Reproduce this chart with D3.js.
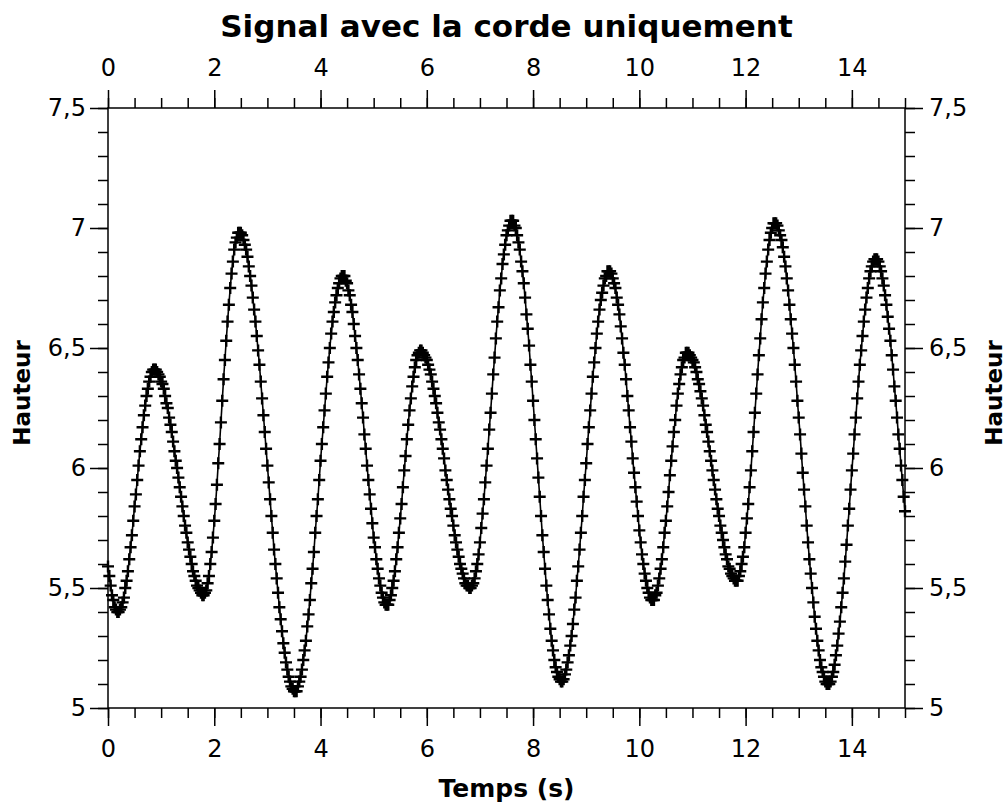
<!DOCTYPE html>
<html>
<head>
<meta charset="utf-8">
<script src="https://cdn.jsdelivr.net/npm/d3@7"></script>
<style>
  body { margin: 0; background: #fff; }
  svg { display: block; }
  text { font-family: "DejaVu Sans", sans-serif; fill: #000; }
</style>
</head>
<body>
<svg id="chart" width="1007" height="805"></svg>
<script>
// ---------- data ----------
const chartTitle = "Signal avec la corde uniquement";
const xAxisLabel = "Temps (s)";
const yAxisLabel = "Hauteur";

const sampleStep = 0.025;   // seconds between samples
const startTime = 0;

// hauteur values, one row per second of signal (40 samples per second) + last sample at 15 s
const hauteur = [
  // 0 s
  5.59,5.55,5.51,5.47,5.45,5.42,5.41,5.40,5.40,5.41,
  5.42,5.44,5.46,5.50,5.53,5.57,5.62,5.67,5.72,5.78,
  5.84,5.89,5.95,6.01,6.07,6.12,6.17,6.22,6.26,6.30,
  6.33,6.36,6.38,6.40,6.41,6.41,6.41,6.40,6.39,6.38,
  // 1 s
  6.36,6.35,6.33,6.30,6.27,6.25,6.21,6.18,6.15,6.11,
  6.07,6.03,6.00,5.96,5.92,5.88,5.84,5.80,5.76,5.73,
  5.69,5.66,5.63,5.60,5.57,5.55,5.53,5.51,5.50,5.49,
  5.48,5.47,5.47,5.48,5.49,5.52,5.55,5.60,5.65,5.71,
  // 2 s
  5.78,5.85,5.93,6.02,6.10,6.19,6.28,6.37,6.45,6.53,
  6.61,6.68,6.75,6.81,6.86,6.91,6.94,6.96,6.98,6.98,
  6.98,6.97,6.95,6.93,6.91,6.88,6.84,6.80,6.76,6.71,
  6.66,6.61,6.55,6.49,6.43,6.36,6.29,6.22,6.15,6.08,
  // 3 s
  6.01,5.94,5.87,5.80,5.73,5.66,5.60,5.54,5.48,5.42,
  5.37,5.32,5.27,5.23,5.19,5.16,5.13,5.11,5.09,5.08,
  5.07,5.07,5.07,5.09,5.11,5.13,5.16,5.20,5.24,5.28,
  5.34,5.39,5.45,5.52,5.58,5.65,5.73,5.80,5.87,5.95,
  // 4 s
  6.03,6.10,6.17,6.24,6.31,6.38,6.44,6.50,6.56,6.61,
  6.65,6.69,6.72,6.75,6.77,6.79,6.80,6.80,6.80,6.78,
  6.77,6.74,6.72,6.68,6.65,6.60,6.55,6.50,6.45,6.39,
  6.33,6.27,6.21,6.14,6.08,6.01,5.95,5.89,5.83,5.77,
  // 5 s
  5.71,5.67,5.62,5.58,5.54,5.51,5.48,5.46,5.44,5.43,
  5.43,5.43,5.45,5.47,5.50,5.53,5.57,5.62,5.67,5.73,
  5.79,5.85,5.92,5.99,6.05,6.12,6.18,6.24,6.29,6.34,
  6.38,6.42,6.45,6.47,6.48,6.49,6.49,6.48,6.47,6.46,
  // 6 s
  6.45,6.43,6.41,6.39,6.36,6.33,6.30,6.27,6.23,6.19,
  6.16,6.12,6.08,6.04,5.99,5.95,5.91,5.87,5.83,5.80,
  5.76,5.72,5.69,5.66,5.63,5.60,5.58,5.56,5.54,5.52,
  5.51,5.51,5.50,5.50,5.51,5.52,5.54,5.57,5.60,5.64,
  // 7 s
  5.69,5.75,5.81,5.87,5.94,6.01,6.08,6.16,6.23,6.31,
  6.39,6.46,6.54,6.61,6.67,6.74,6.79,6.85,6.89,6.93,
  6.97,6.99,7.01,7.03,7.03,7.03,7.01,7.00,6.97,6.94,
  6.91,6.86,6.82,6.77,6.71,6.64,6.58,6.51,6.43,6.36,
  // 8 s
  6.28,6.20,6.12,6.04,5.96,5.88,5.80,5.72,5.65,5.58,
  5.51,5.45,5.39,5.33,5.28,5.24,5.20,5.17,5.15,5.13,
  5.12,5.11,5.11,5.12,5.14,5.16,5.19,5.22,5.26,5.30,
  5.35,5.41,5.46,5.53,5.59,5.66,5.73,5.80,5.88,5.95,
  // 9 s
  6.02,6.10,6.17,6.24,6.31,6.38,6.44,6.50,6.56,6.61,
  6.66,6.70,6.73,6.76,6.79,6.80,6.82,6.82,6.82,6.81,
  6.79,6.77,6.75,6.71,6.68,6.64,6.59,6.54,6.48,6.43,
  6.37,6.30,6.24,6.17,6.11,6.04,5.98,5.92,5.86,5.80,
  // 10 s
  5.74,5.69,5.64,5.60,5.56,5.53,5.50,5.48,5.46,5.45,
  5.45,5.45,5.47,5.48,5.51,5.54,5.58,5.62,5.67,5.73,
  5.78,5.84,5.90,5.97,6.03,6.09,6.15,6.20,6.26,6.31,
  6.35,6.39,6.42,6.45,6.46,6.48,6.48,6.48,6.47,6.46,
  // 11 s
  6.45,6.44,6.42,6.40,6.37,6.35,6.32,6.29,6.26,6.22,
  6.18,6.15,6.11,6.07,6.03,5.99,5.95,5.91,5.87,5.83,
  5.80,5.76,5.73,5.70,5.67,5.64,5.62,5.59,5.58,5.56,
  5.55,5.54,5.53,5.53,5.53,5.55,5.57,5.60,5.63,5.67,
  // 12 s
  5.73,5.79,5.85,5.92,5.99,6.07,6.15,6.23,6.31,6.39,
  6.47,6.54,6.62,6.69,6.75,6.81,6.86,6.91,6.95,6.98,
  7.00,7.02,7.02,7.02,7.01,6.99,6.97,6.95,6.92,6.88,
  6.84,6.79,6.74,6.68,6.62,6.56,6.50,6.43,6.36,6.28,
  // 13 s
  6.21,6.14,6.06,5.98,5.91,5.84,5.76,5.69,5.62,5.56,
  5.50,5.44,5.38,5.33,5.28,5.24,5.20,5.17,5.15,5.13,
  5.11,5.10,5.10,5.10,5.11,5.13,5.15,5.18,5.22,5.26,
  5.31,5.36,5.42,5.48,5.54,5.61,5.68,5.76,5.83,5.91,
  // 14 s
  5.99,6.06,6.14,6.21,6.29,6.36,6.43,6.49,6.55,6.61,
  6.66,6.71,6.75,6.79,6.82,6.84,6.86,6.87,6.87,6.87,
  6.86,6.84,6.82,6.79,6.76,6.72,6.68,6.63,6.58,6.53,
  6.47,6.41,6.34,6.28,6.21,6.14,6.08,6.01,5.95,5.88,
  // 15 s
  5.82
];

const xDomain = [0, 15];
const yDomain = [5, 7.5];
const xMajorTicks = [0, 2, 4, 6, 8, 10, 12, 14];
const xMinorTicks = [0,0.5,1,1.5,2,2.5,3,3.5,4,4.5,5,5.5,6,6.5,7,7.5,8,8.5,9,9.5,10,10.5,11,11.5,12,12.5,13,13.5,14,14.5,15];
const yMajorTicks = [5, 5.5, 6, 6.5, 7, 7.5];
const yMajorLabels = ["5", "5,5", "6", "6,5", "7", "7,5"];
const yMinorTicks = [5,5.1,5.2,5.3,5.4,5.5,5.6,5.7,5.8,5.9,6,6.1,6.2,6.3,6.4,6.5,6.6,6.7,6.8,6.9,7,7.1,7.2,7.3,7.4,7.5];

// ---------- drawing ----------
const svg = d3.select("#chart");
const W = 1007, H = 805;
const margin = { left: 108, right: 102, top: 108, bottom: 97 };
const x = d3.scaleLinear().domain(xDomain).range([margin.left, W - margin.right]);
const y = d3.scaleLinear().domain(yDomain).range([H - margin.bottom, margin.top]);

const points = hauteur.map((v, i) => ({ t: startTime + i * sampleStep, v }));

const majorLen = 18, minorLen = 10, tickFont = 24;

function styleAxis(g) {
  g.select(".domain").remove();
  g.selectAll(".tick line").attr("stroke", "#000").attr("stroke-width", 1.5);
  g.selectAll(".tick text").attr("font-family", "DejaVu Sans").attr("font-size", tickFont).attr("fill", "#000");
}

const fmtY = d => yMajorLabels[yMajorTicks.indexOf(d)];

// bottom
svg.append("g").attr("transform", `translate(0,${y(yDomain[0])})`)
  .call(d3.axisBottom(x).tickValues(xMinorTicks).tickSize(minorLen).tickFormat(""))
  .call(styleAxis);
svg.append("g").attr("transform", `translate(0,${y(yDomain[0])})`)
  .call(d3.axisBottom(x).tickValues(xMajorTicks).tickSize(majorLen).tickPadding(14).tickFormat(d => d))
  .call(styleAxis);
// top
svg.append("g").attr("transform", `translate(0,${y(yDomain[1])})`)
  .call(d3.axisTop(x).tickValues(xMinorTicks).tickSize(minorLen).tickFormat(""))
  .call(styleAxis);
svg.append("g").attr("transform", `translate(0,${y(yDomain[1])})`)
  .call(d3.axisTop(x).tickValues(xMajorTicks).tickSize(majorLen).tickPadding(14).tickFormat(d => d))
  .call(styleAxis);
// left
svg.append("g").attr("transform", `translate(${x(xDomain[0])},0)`)
  .call(d3.axisLeft(y).tickValues(yMinorTicks).tickSize(minorLen).tickFormat(""))
  .call(styleAxis);
svg.append("g").attr("transform", `translate(${x(xDomain[0])},0)`)
  .call(d3.axisLeft(y).tickValues(yMajorTicks).tickSize(majorLen).tickPadding(4).tickFormat(fmtY))
  .call(styleAxis);
// right
svg.append("g").attr("transform", `translate(${x(xDomain[1])},0)`)
  .call(d3.axisRight(y).tickValues(yMinorTicks).tickSize(minorLen).tickFormat(""))
  .call(styleAxis);
svg.append("g").attr("transform", `translate(${x(xDomain[1])},0)`)
  .call(d3.axisRight(y).tickValues(yMajorTicks).tickSize(majorLen).tickPadding(6).tickFormat(fmtY))
  .call(styleAxis);

// frame
svg.append("rect")
  .attr("x", x(xDomain[0])).attr("y", y(yDomain[1]))
  .attr("width", x(xDomain[1]) - x(xDomain[0]))
  .attr("height", y(yDomain[0]) - y(yDomain[1]))
  .attr("fill", "none").attr("stroke", "#000").attr("stroke-width", 1.5);

// signal line
svg.append("path")
  .datum(points)
  .attr("fill", "none").attr("stroke", "#000").attr("stroke-width", 1.6)
  .attr("d", d3.line().x(d => x(d.t)).y(d => y(d.v)));

// plus markers
svg.append("g").selectAll("path.pt")
  .data(points).join("path")
  .attr("class", "pt")
  .attr("transform", d => `translate(${x(d.t)},${y(d.v)})`)
  .attr("d", "M-6,0H6M0,-6V6")
  .attr("stroke", "#000").attr("stroke-width", 2.4).attr("fill", "none");

// title and labels
svg.append("text").attr("x", (x(xDomain[0]) + x(xDomain[1])) / 2).attr("y", 37)
  .attr("text-anchor", "middle").attr("font-size", 31).attr("font-weight", "bold")
  .text(chartTitle);
svg.append("text").attr("x", (x(xDomain[0]) + x(xDomain[1])) / 2).attr("y", 797)
  .attr("text-anchor", "middle").attr("font-size", 25).attr("font-weight", "bold")
  .text(xAxisLabel);
svg.append("text").attr("transform", `translate(30,393) rotate(-90)`)
  .attr("text-anchor", "middle").attr("font-size", 23).attr("font-weight", "bold")
  .text(yAxisLabel);
svg.append("text").attr("transform", `translate(1002,393) rotate(-90)`)
  .attr("text-anchor", "middle").attr("font-size", 23).attr("font-weight", "bold")
  .text(yAxisLabel);
</script>
</body>
</html>
